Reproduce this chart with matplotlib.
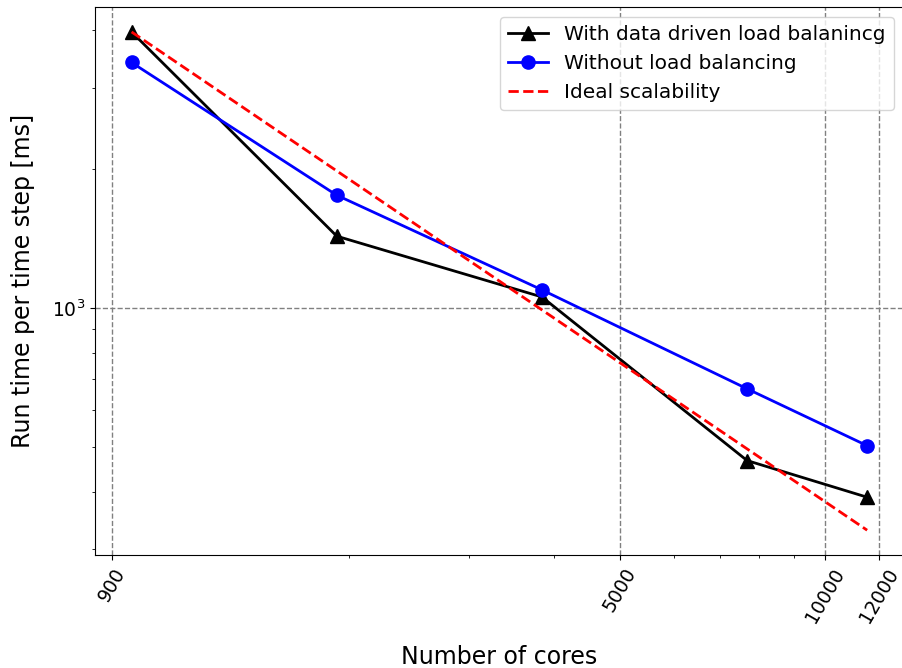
import matplotlib
matplotlib.use("Agg")
import matplotlib.pyplot as plt
import matplotlib.ticker as ticker

# cores used in each run
cores = [960, 1920, 3840, 7680, 11520]
# run time per time step [ms]
with_lb = [3960, 1430, 1056, 467, 389]
without_lb = [3400, 1754, 1094, 668, 503]
ideal = [3960, 1980, 990, 495, 330]

xticks = [900, 5000, 10000, 12000]
xticklabels = ["900", "5000", "10000", "12000"]

fig = plt.figure(figsize=(9.03, 6.68), dpi=100)
# the original was cropped tight, right spine falls just outside the picture
ax = fig.add_axes([0.105, 0.169, 0.896, 0.8205])

ax.plot(cores, with_lb, c='#000000', marker='^', ms=9.5, lw=2, label='With data driven load balanincg')
ax.plot(cores, without_lb, c='#0000ff', marker='o', ms=9.5, lw=2, label='Without load balancing')
ax.plot(cores, ideal, c='#ff0000', ls='--', lw=2, label='Ideal scalability')

ax.set_xscale('log')
ax.set_yscale('log')
ax.set_xticks(xticks)
ax.set_xticklabels(xticklabels, rotation=60)
ax.xaxis.set_minor_formatter(ticker.NullFormatter())
ax.yaxis.set_minor_formatter(ticker.NullFormatter())
ax.tick_params(labelsize=13.5)

ax.grid(True, which='major', ls='--', c='gray', lw=1)

ax.set_xlabel('Number of cores', fontsize=17, labelpad=14)
ax.set_ylabel('Run time per time step [ms]', fontsize=17, labelpad=12)
ax.legend(loc='upper right', fontsize=14.5)

fig.savefig('out.png', dpi=100)
